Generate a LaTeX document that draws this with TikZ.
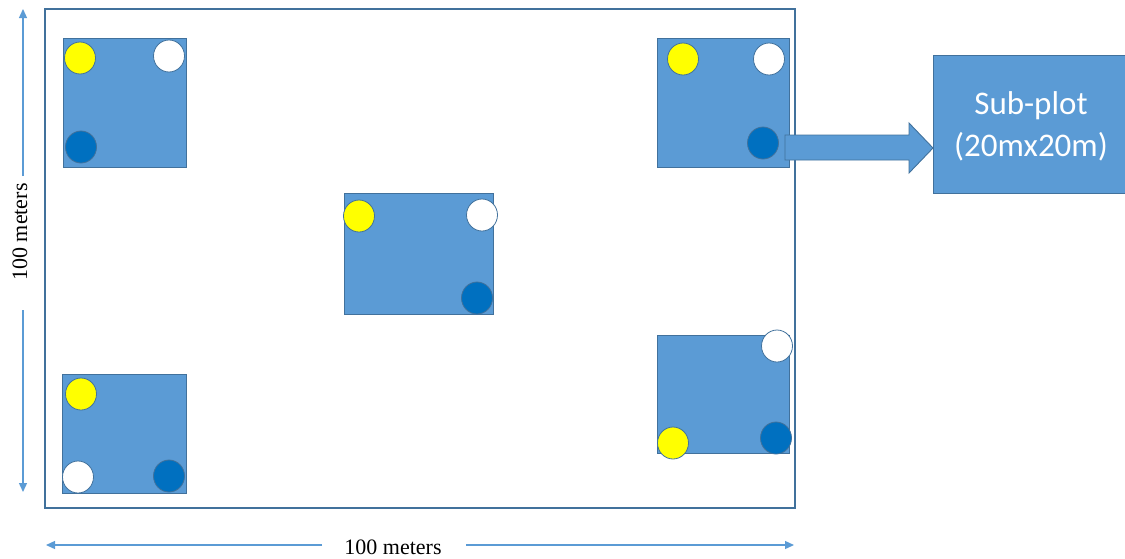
\documentclass[tikz,border=0pt]{standalone}
\usepackage{fontspec}
\setmainfont{Liberation Serif}
\newfontfamily\calib{Carlito}
\usetikzlibrary{arrows.meta}
\definecolor{officeblue}{HTML}{5B9BD5}
\definecolor{edgeblue}{HTML}{41719C}
\definecolor{darkdot}{HTML}{0070C0}
\definecolor{yel}{HTML}{FFFF00}
\tikzset{
  plotbox/.style={draw=edgeblue, line width=0.9pt, fill=officeblue},
  dot/.style={draw=edgeblue, line width=0.9pt, ellipse via radii},
  yeldot/.style={fill=yel},
  whitedot/.style={fill=white},
  bluedot/.style={fill=darkdot},
  dimarrow/.style={draw=officeblue, line width=1.3pt, -{Triangle[length=9pt,width=8pt]}},
  dimlabel/.style={font=\fontsize{22}{24}\selectfont, inner sep=0pt, outer sep=0pt}
}
\newcommand{\spot}[4]{\draw[draw=edgeblue, line width=0.8pt, fill=#4] (#1,#2) ellipse [x radius=15.5, y radius=16];}
\begin{document}
\begin{tikzpicture}[x=1pt, y=-1pt]
\useasboundingbox (0,0) rectangle (1125,558);
% main field
\draw[draw=edgeblue, line width=1.1pt] (45,9) rectangle (795,508);
% sub plots
\draw[plotbox] (63,38) rectangle (186,167);
\draw[plotbox] (657,38) rectangle (789,167);
\draw[plotbox] (344,193) rectangle (493,314);
\draw[plotbox] (62,374) rectangle (186,493);
\draw[plotbox] (657,335) rectangle (789,453);
% dots TL
\spot{80}{58}{}{yel}
\spot{169}{56}{}{white}
\spot{81}{147}{}{darkdot}
% dots TR
\spot{683}{59}{}{yel}
\spot{769}{59}{}{white}
\spot{763}{143}{}{darkdot}
% dots centre
\spot{359}{216}{}{yel}
\spot{482}{215}{}{white}
\spot{477}{298}{}{darkdot}
% dots BL
\spot{81}{394}{}{yel}
\spot{78}{477}{}{white}
\spot{169}{476}{}{darkdot}
% dots BR
\spot{777}{346}{}{white}
\spot{673}{443}{}{yel}
\spot{776}{438}{}{darkdot}
% block arrow
\draw[draw=edgeblue, line width=0.9pt, fill=officeblue]
  (785,135) -- (909,135) -- (909,123) -- (933,148) -- (909,173) -- (909,160) -- (785,160) -- cycle;
% sub-plot box
\node[draw=edgeblue, line width=0.9pt, fill=officeblue, minimum width=200pt, minimum height=138pt, anchor=north west, inner sep=0pt] (sub) at (933,55) {};
\node[text=white, font=\calib\fontsize{33}{42}\selectfont, align=center] (subtxt) at (1031,126) {Sub-plot\\(20mx20m)};
% dimension arrows
\node[dimlabel, rotate=90] (vlab) at (20,232) {100 meters};
\coordinate (vtop) at (23,9);
\coordinate (vbot) at (23,492);
\coordinate (vgaptop) at (23,176);
\coordinate (vgapbot) at (23,310);
\draw[dimarrow] (vgaptop) -- (vtop);
\draw[dimarrow] (vgapbot) -- (vbot);
\node[dimlabel] (hlab) at (393,547) {100 meters};
\coordinate (hleft) at (46,545);
\coordinate (hright) at (794,545);
\coordinate (hgapl) at (322,545);
\coordinate (hgapr) at (466,545);
\draw[dimarrow] (hgapl) -- (hleft);
\draw[dimarrow] (hgapr) -- (hright);
\end{tikzpicture}
\end{document}
